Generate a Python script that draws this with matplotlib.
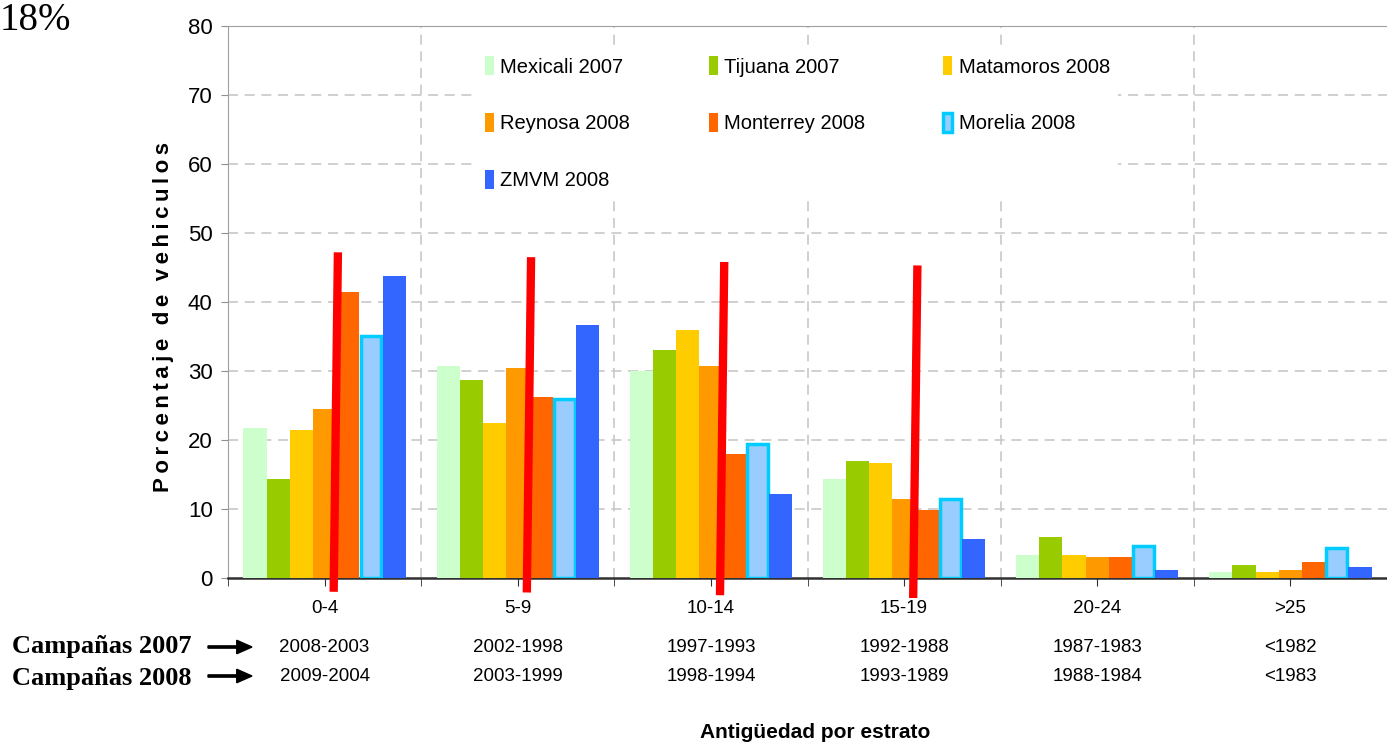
import numpy as np
import matplotlib
matplotlib.use("Agg")
import matplotlib.pyplot as plt
from matplotlib import font_manager

# data
categories = ["0-4", "5-9", "10-14", "15-19", "20-24", ">25"]
years_2007 = ["2008-2003", "2002-1998", "1997-1993", "1992-1988", "1987-1983", "<1982"]
years_2008 = ["2009-2004", "2003-1999", "1998-1994", "1993-1989", "1988-1984", "<1983"]

mexicali_2007 = [21.8, 30.7, 30.0, 14.3, 3.3, 0.9]
tijuana_2007 = [14.3, 28.7, 33.1, 17.0, 6.0, 1.9]
matamoros_2008 = [21.4, 22.5, 35.9, 16.7, 3.3, 0.9]
reynosa_2008 = [24.5, 30.4, 30.7, 11.5, 3.0, 1.2]
monterrey_2008 = [41.4, 26.3, 18.0, 9.8, 3.0, 2.3]
morelia_2008 = [35.1, 25.9, 19.4, 11.5, 4.6, 4.3]
zmvm_2008 = [43.8, 36.6, 12.2, 5.7, 1.2, 1.6]

# red marker lines drawn over the first four groups (y in data units)
red_top = [47.2, 46.5, 45.8, 45.3]
red_bottom = [-2.0, -2.1, -2.5, -2.9]

names = {f.name for f in font_manager.fontManager.ttflist}
narrow = "Liberation Sans Narrow" if "Liberation Sans Narrow" in names else "Liberation Sans"
plt.rcParams["font.family"] = [narrow, "DejaVu Sans"]

series = [
    ("Mexicali 2007", mexicali_2007, "#CCFFCC"),
    ("Tijuana 2007", tijuana_2007, "#99CC00"),
    ("Matamoros 2008", matamoros_2008, "#FFCC00"),
    ("Reynosa 2008", reynosa_2008, "#FF9900"),
    ("Monterrey 2008", monterrey_2008, "#FF6600"),
    ("Morelia 2008", morelia_2008, "#99CCFF"),
    ("ZMVM 2008", zmvm_2008, "#3366FF"),
]

fig = plt.figure(figsize=(13.87, 7.48), dpi=100)
ax = fig.add_axes([228 / 1387, 170 / 748, 1 - 228 / 1387, 552 / 748])

x = np.arange(len(categories))
w = 0.12
handles = []
for i, (name, vals, color) in enumerate(series):
    off = (i - 3) * w
    if name.startswith("Morelia"):
        b = ax.bar(x + off, vals, w * 0.9, color=color, edgecolor="#00CCFF",
                   linewidth=2.5, label=name, zorder=3)
    else:
        b = ax.bar(x + off, vals, w, color=color, edgecolor="none", label=name, zorder=3)
    handles.append(b)

# red lines
for i in range(len(red_top)):
    ax.plot([i + 0.047, i + 0.069], [red_bottom[i], red_top[i]], color="#FF0000",
            lw=6, solid_capstyle="butt", clip_on=False, zorder=6)

ax.set_xlim(-0.5, (1387 - 325.5) / 195)
ax.set_ylim(0, 80)
ax.set_yticks(range(0, 81, 10))
ax.tick_params(axis="y", labelsize=16, length=5, color="#909090", pad=6)
ax.set_xticks(x)
ax.set_xticklabels([])
ax.set_xticks(np.arange(-0.5, 6, 1), minor=True)
ax.tick_params(axis="x", which="both", length=6, color="#303030", direction="out")

for yy in range(10, 80, 10):
    ax.axhline(yy, color="#C8C8C8", lw=1.2, ls=(0, (6, 4)), zorder=1)
for xx in np.arange(0.5, 5.5, 1):
    ax.axvline(xx, color="#C8C8C8", lw=1.2, ls=(0, (6, 4)), zorder=1)

for s in ["top", "left"]:
    ax.spines[s].set_color("#A0A0A0")
ax.spines["right"].set_visible(False)
ax.spines["bottom"].set_color("#303030")
ax.spines["bottom"].set_linewidth(1.8)

tr = ax.get_xaxis_transform()
for i in range(len(categories)):
    ax.text(i, -0.056, categories[i], transform=tr, ha="center", va="center", fontsize=13.5)
    ax.text(i, -0.125, years_2007[i], transform=tr, ha="center", va="center", fontsize=13.5)
    ax.text(i, -0.179, years_2008[i], transform=tr, ha="center", va="center", fontsize=13.5)

order = [0, 3, 6, 1, 4, 2, 5]
leg = ax.legend([handles[k] for k in order], [series[k][0] for k in order],
                ncol=3, loc="upper left", bbox_to_anchor=(239 / 1159, 1 - 12 / 552),
                fontsize=14.5, frameon=True, facecolor="white", edgecolor="none",
                framealpha=1, handlelength=0.45, handleheight=1.1, handletextpad=0.3,
                columnspacing=3.9, labelspacing=1.8, borderpad=0.4)
leg.set_zorder(5)

ylab = "\u2009\u2009\u2009".join("\u2009".join(wd) for wd in "Porcentaje de vehiculos".split())
fig.text(0.118, 1 - 317 / 748, ylab, rotation=90, ha="center", va="center",
         fontsize=16, fontweight="bold")
fig.text(815 / 1387, 1 - 733 / 748, "Antigüedad por estrato", ha="center", va="center",
         fontsize=15, fontweight="bold")

fig.text(12 / 1387, 1 - 647 / 748, "Campañas 2007", ha="left", va="center",
         fontsize=19, fontweight="bold", family="Liberation Serif")
fig.text(12 / 1387, 1 - 679 / 748, "Campañas 2008", ha="left", va="center",
         fontsize=19, fontweight="bold", family="Liberation Serif")
for yy in [647, 676]:
    fig.patches.append(matplotlib.patches.FancyArrow(
        208 / 1387, 1 - yy / 748, 44 / 1387, 0, width=0.003, head_width=0.018,
        head_length=0.011, length_includes_head=True, color="black",
        transform=fig.transFigure, figure=fig))

fig.text(0, 1 - 30 / 748, "18%", ha="left", va="baseline", fontsize=28,
         family="Liberation Serif")

fig.savefig("out.png", dpi=100)
